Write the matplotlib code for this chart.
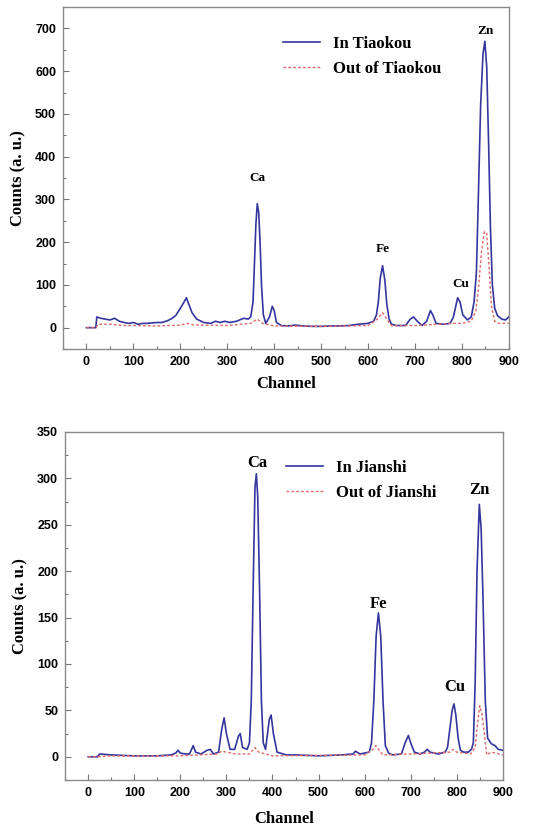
import matplotlib
matplotlib.use("Agg")
import matplotlib.pyplot as plt
from matplotlib.ticker import MultipleLocator

# --- Tiaokou spectrum ---
tk_in_ch = [0, 20, 22, 30, 40, 50, 60, 70, 80, 90, 100, 110, 120, 130, 140, 150, 160, 170,
            180, 190, 200, 208, 213, 218, 225, 235, 250, 265, 275, 285, 295, 305, 320, 335,
            345, 350, 355, 358, 361, 364, 367, 370, 373, 377, 382, 390, 396, 400, 405, 415,
            430, 445, 460, 480, 500, 520, 540, 560, 580, 600, 612, 618, 622, 626, 631, 636,
            640, 645, 650, 660, 680, 690, 697, 705, 715, 725, 733, 738, 745, 760, 775, 782,
            787, 791, 796, 802, 812, 820, 826, 831, 835, 840, 845, 849, 853, 857, 861, 865,
            870, 876, 885, 893, 900]
tk_in_val = [0, 0, 25, 22, 20, 18, 22, 15, 12, 10, 12, 8, 10, 10, 11, 12, 12, 15,
             20, 28, 45, 60, 70, 55, 35, 20, 12, 10, 15, 12, 15, 12, 15, 22,
             20, 25, 60, 150, 240, 290, 270, 200, 100, 30, 10, 25, 50, 40, 12, 5,
             4, 6, 4, 3, 3, 4, 4, 5, 8, 10, 15, 30, 60, 115, 145, 110,
             55, 20, 8, 5, 5, 20, 25, 15, 5, 15, 40, 30, 10, 8, 10, 25,
             50, 70, 60, 30, 18, 25, 60, 130, 300, 520, 640, 670, 610, 430, 230, 100,
             45, 28, 20, 18, 25]
tk_out_ch = [0, 20, 25, 50, 80, 100, 150, 200, 215, 230, 300, 350, 364, 375, 400, 500,
             600, 620, 631, 640, 650, 700, 780, 800, 820, 830, 836, 842, 848, 853, 858, 863,
             870, 880, 900]
tk_out_val = [0, 0, 8, 8, 5, 5, 4, 6, 10, 6, 5, 10, 20, 10, 4, 3,
              5, 20, 35, 20, 5, 5, 10, 10, 15, 40, 100, 180, 225, 220, 140, 50,
              15, 10, 10]

# --- Jianshi spectrum ---
js_in_ch = [0, 20, 25, 50, 100, 150, 180, 190, 195, 200, 210, 220, 228, 233, 245, 258,
            265, 272, 283, 290, 295, 300, 308, 318, 326, 330, 335, 345, 350, 354, 358,
            362, 365, 368, 372, 376, 380, 385, 393, 397, 402, 410, 430, 450, 500, 550,
            575, 580, 590, 610, 615, 620, 625, 630, 635, 640, 645, 652, 660, 680, 688,
            695, 700, 708, 720, 730, 736, 742, 760, 775, 780, 785, 790, 794, 798, 803,
            808, 815, 825, 832, 836, 840, 844, 849, 853, 857, 862, 867, 875, 883, 890, 900]
js_in_val = [0, 0, 3, 2, 1, 1, 2, 4, 7, 4, 3, 3, 12, 5, 3, 7,
             8, 3, 5, 30, 42, 25, 8, 8, 22, 25, 10, 8, 15, 60, 180,
             290, 305, 280, 180, 60, 15, 8, 40, 45, 25, 5, 2, 2, 1, 2,
             3, 6, 3, 5, 15, 60, 130, 155, 130, 60, 12, 4, 2, 3, 15,
             23, 15, 5, 3, 5, 8, 5, 3, 5, 10, 30, 50, 57, 45, 20,
             7, 5, 5, 8, 15, 80, 200, 272, 245, 170, 60, 20, 14, 12, 8, 7]
js_out_ch = [0, 20, 50, 200, 280, 290, 300, 320, 350, 362, 370, 400, 600, 618, 624, 630,
             640, 700, 785, 792, 800, 830, 840, 845, 850, 855, 860, 865, 875, 900]
js_out_val = [0, 0, 1, 1, 3, 6, 5, 3, 3, 10, 5, 1, 2, 8, 12, 8,
              2, 3, 5, 8, 5, 3, 10, 35, 55, 45, 25, 2, 5, 2]

peaks = ["Ca", "Fe", "Cu", "Zn"]
tk_peak_pos = [(365, 350), (632, 185), (797, 103), (850, 693)]
js_peak_pos = [(367, 317), (630, 165), (795, 75), (850, 287)]

blue = "#35359e"
red = "#e06a6a"
serif = ["Liberation Serif", "DejaVu Serif"]
sans = ["Liberation Sans", "DejaVu Sans"]

fig = plt.figure(figsize=(5.43, 8.31), dpi=100)
ax1 = fig.add_axes([0.116, 0.580, 0.821, 0.4115])
ax2 = fig.add_axes([0.120, 0.0614, 0.806, 0.4188])


def style_axes(ax, ylim, ymajor, yminor, xpad):
    ax.set_xlim(-50, 900)
    ax.set_ylim(*ylim)
    ax.xaxis.set_major_locator(MultipleLocator(100))
    ax.xaxis.set_minor_locator(MultipleLocator(50))
    ax.yaxis.set_major_locator(MultipleLocator(ymajor))
    ax.yaxis.set_minor_locator(MultipleLocator(yminor))
    ax.tick_params(which="both", direction="in", top=False, right=False,
                   color="#777777", width=0.8)
    ax.tick_params(which="major", length=4, labelsize=9, pad=5)
    ax.tick_params(which="minor", length=2)
    for lab in ax.get_xticklabels() + ax.get_yticklabels():
        lab.set_family(sans)
        lab.set_fontweight("bold")
    for sp in ax.spines.values():
        sp.set_color("#8a8a8a")
        sp.set_linewidth(1.0)
    ax.set_xlabel("Channel", family=serif, fontweight="bold", fontsize=12, labelpad=xpad)
    ax.set_ylabel("Counts (a. u.)", family=serif, fontweight="bold", fontsize=12, labelpad=6)


# top panel
ax1.plot(tk_in_ch, tk_in_val, color=blue, lw=1.2, label="In Tiaokou")
ax1.plot(tk_out_ch, tk_out_val, color=red, lw=1.0, ls=(0, (2, 1.5)), label="Out of Tiaokou")
style_axes(ax1, (-50, 750), 100, 50, 6)
for name, (x, y) in zip(peaks, tk_peak_pos):
    ax1.text(x, y, name, ha="center", va="center", family=serif, fontweight="bold", fontsize=9.5)
ax1.legend(loc="upper left", bbox_to_anchor=(0.46, 0.96), frameon=False,
           prop={"family": serif, "weight": "bold", "size": 12},
           handlelength=2.2, handletextpad=0.8, labelspacing=0.55)

# bottom panel
ax2.plot(js_in_ch, js_in_val, color=blue, lw=1.2, label="In Jianshi")
ax2.plot(js_out_ch, js_out_val, color=red, lw=1.0, ls=(0, (2, 1.5)), label="Out of Jianshi")
style_axes(ax2, (-25, 350), 50, 25, 9)
for name, (x, y) in zip(peaks, js_peak_pos):
    ax2.text(x, y, name, ha="center", va="center", family=serif, fontweight="bold", fontsize=12)
ax2.legend(loc="upper left", bbox_to_anchor=(0.47, 0.963), frameon=False,
           prop={"family": serif, "weight": "bold", "size": 12},
           handlelength=2.2, handletextpad=0.8, labelspacing=0.55)

fig.savefig("out.png", dpi=100)
